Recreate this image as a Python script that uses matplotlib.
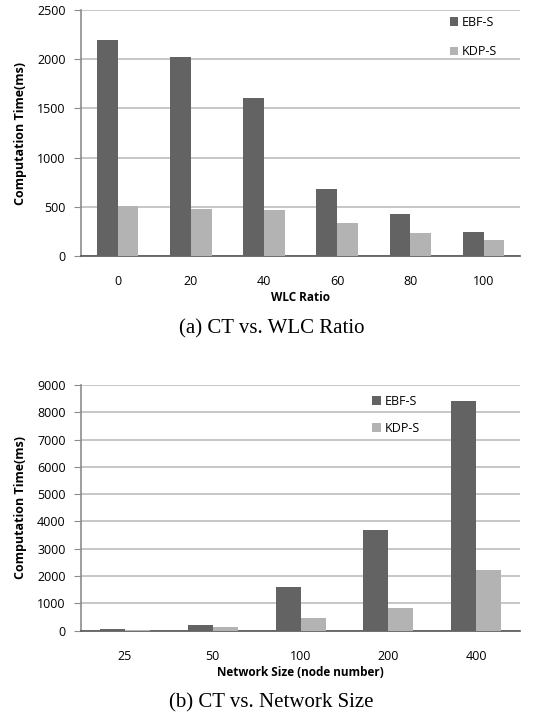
import matplotlib
matplotlib.use("Agg")
import matplotlib.pyplot as plt
import numpy as np

# panel (a): computation time vs. WLC ratio
wlc_ratio = ["0", "20", "40", "60", "80", "100"]
wlc_ebf = [2200, 2020, 1605, 683, 425, 245]
wlc_kdp = [503, 473, 463, 334, 229, 162]

# panel (b): computation time vs. network size
net_size = ["25", "50", "100", "200", "400"]
net_ebf = [55, 205, 1600, 3680, 8420]
net_kdp = [40, 130, 460, 830, 2220]

series_names = ["EBF-S", "KDP-S"]
DARK = "#636363"
LIGHT = "#b3b3b3"
GRID = "#bdbdbd"
BAR_W = 0.285

plt.rcParams["font.family"] = ["Open Sans", "DejaVu Sans"]

fig = plt.figure(figsize=(5.43, 7.21), dpi=100)


def draw_panel(ax, cats, ebf, kdp, ymax, ystep, xlabel, legend_xy, spacing):
    x = np.arange(len(cats))
    b1 = ax.bar(x - BAR_W / 2, ebf, BAR_W, color=DARK, label=series_names[0], zorder=3)
    b2 = ax.bar(x + BAR_W / 2, kdp, BAR_W, color=LIGHT, label=series_names[1], zorder=3)
    ax.set_xlim(-0.5, len(cats) - 0.5)
    ax.set_ylim(0, ymax)
    ax.set_yticks(np.arange(0, ymax + 1, ystep))
    ax.set_xticks(x)
    ax.set_xticklabels(cats)
    ax.yaxis.grid(True, color=GRID, linewidth=1.2, zorder=0)
    ax.set_axisbelow(True)
    for side in ("top", "right"):
        ax.spines[side].set_visible(False)
    ax.spines["left"].set_color("#8c8c8c")
    ax.spines["left"].set_linewidth(1.2)
    ax.spines["bottom"].set_color("#555555")
    ax.spines["bottom"].set_linewidth(1.2)
    ax.tick_params(axis="y", length=5, color="#8c8c8c", labelsize=9, pad=6)
    ax.tick_params(axis="x", length=0, labelsize=9, pad=14)
    ax.set_ylabel("Computation Time(ms)", fontsize=9, fontweight="bold", labelpad=7)
    ax.set_xlabel(xlabel, fontsize=8.5, fontweight="bold", labelpad=2)
    ax.legend(handles=[b1, b2], loc="upper left", bbox_to_anchor=legend_xy,
              frameon=False, fontsize=9, handlelength=0.7, handleheight=0.7,
              handletextpad=0.3, labelspacing=spacing, borderaxespad=0)


ax_a = fig.add_axes([0.149, 0.645, 0.809, 0.341])
draw_panel(ax_a, wlc_ratio, wlc_ebf, wlc_kdp, 2500, 500, "WLC Ratio",
           (0.828, 0.996), 1.3)
fig.text(0.5, 1 - 329 / 721, "(a) CT vs. WLC Ratio", ha="center", va="center",
         family="Liberation Serif", fontsize=15)

ax_b = fig.add_axes([0.149, 0.1252, 0.809, 0.341])
draw_panel(ax_b, net_size, net_ebf, net_kdp, 9000, 1000,
           "Network Size (node number)", (0.651, 0.979), 1.1)
fig.text(0.5, 1 - 703 / 721, "(b) CT vs. Network Size", ha="center", va="center",
         family="Liberation Serif", fontsize=15)

fig.savefig("out.png", dpi=100)
